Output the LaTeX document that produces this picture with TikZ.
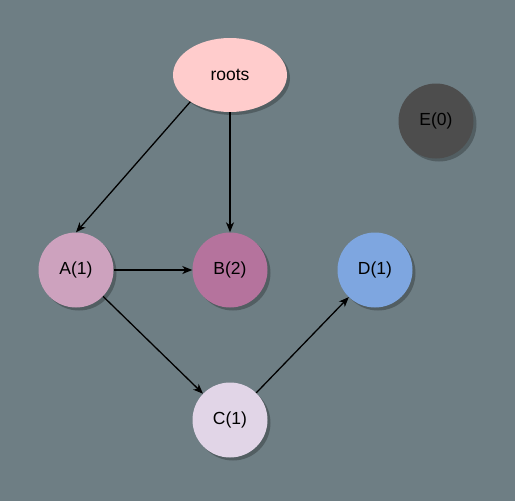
\documentclass[tikz,border=0pt]{standalone}
\usepackage{fontspec}
\setmainfont{Liberation Sans}
\usetikzlibrary{arrows.meta,shadows,shapes.geometric}

\definecolor{bggray}{RGB}{110,126,132}
\definecolor{rootpink}{RGB}{255,204,204}
\definecolor{apink}{RGB}{205,162,190}
\definecolor{bmauve}{RGB}{181,115,157}
\definecolor{clilac}{RGB}{225,213,231}
\definecolor{dblue}{RGB}{126,166,224}
\definecolor{edark}{RGB}{77,77,77}

\begin{document}
\begin{tikzpicture}[x=1pt,y=-1pt,
    font=\fontsize{17.5}{21}\selectfont,
    vertex/.style={circle,minimum size=75pt,inner sep=0pt,
        drop shadow={shadow xshift=3pt,shadow yshift=-3pt,fill=black,opacity=0.25}},
    link/.style={-{Stealth[length=10pt,width=8pt,inset=3pt]},line width=1.3pt}]
    % Draw background
    \fill[bggray] (0,0) rectangle (515,501);
    \useasboundingbox (0,0) rectangle (515,501);
    % Draw nodes
    \node (roots) [ellipse,minimum width=114pt,minimum height=74pt,inner sep=0pt,fill=rootpink,
        drop shadow={shadow xshift=3pt,shadow yshift=-3pt,fill=black,opacity=0.25}] at (230,75) {roots};
    \node (A) [vertex,fill=apink] at (76,270) {A(1)};
    \node (B) [vertex,fill=bmauve] at (230,270) {B(2)};
    \node (C) [vertex,fill=clilac] at (230,420) {C(1)};
    \node (D) [vertex,fill=dblue] at (375,270) {D(1)};
    \node (E) [vertex,fill=edark,text=black] at (436,121) {E(0)};
    % Draw edges
    \draw [link] (roots.214) -- (A.north);
    \draw [link] (roots) -- (B);
    \draw [link] (A) -- (B);
    \draw [link] (A) -- (C);
    \draw [link] (C) -- (D);
\end{tikzpicture}
\end{document}
